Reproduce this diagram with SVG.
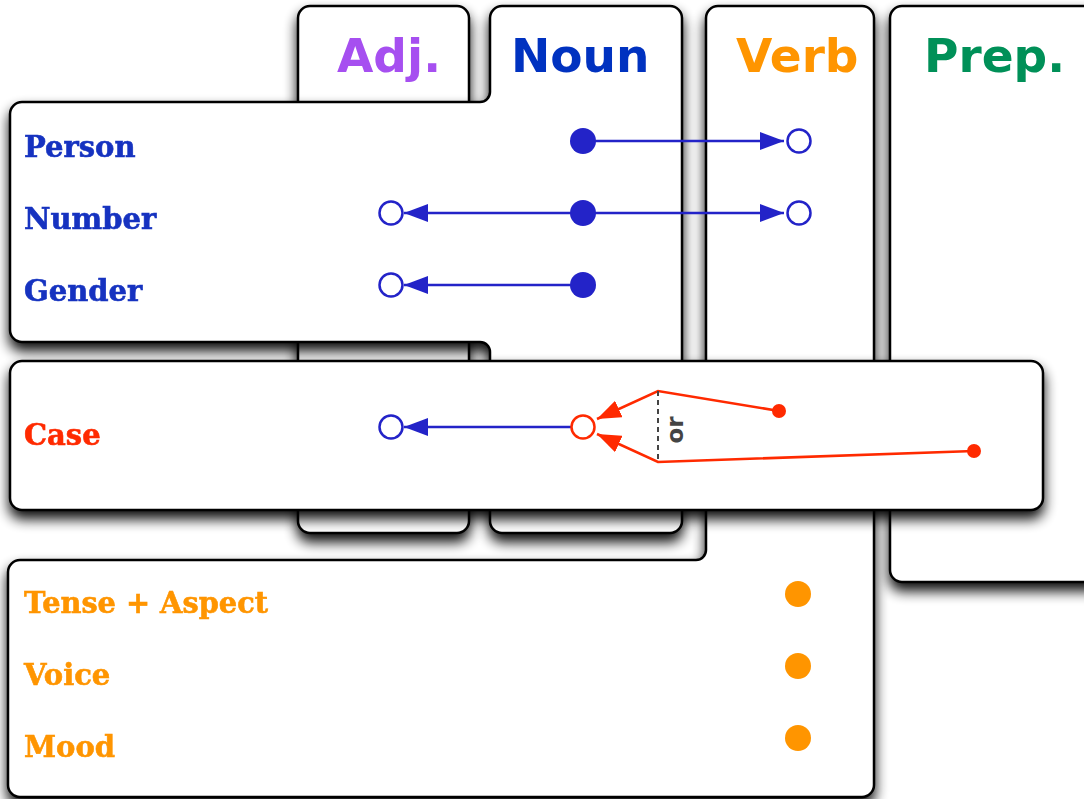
<svg xmlns="http://www.w3.org/2000/svg" width="1084" height="799" viewBox="0 0 1084 799">
<defs>
<filter id="sh" x="-10%" y="-10%" width="120%" height="130%">
<feGaussianBlur in="SourceAlpha" stdDeviation="6.5"/>
<feOffset dx="0" dy="8" result="b"/>
<feComponentTransfer><feFuncA type="linear" slope="0.95"/></feComponentTransfer>
<feMerge><feMergeNode/><feMergeNode in="SourceGraphic"/></feMerge>
</filter>
<marker id="ab" viewBox="0 0 24 18" refX="24" refY="9" markerWidth="24" markerHeight="18" markerUnits="userSpaceOnUse" orient="auto-start-reverse"><path d="M0,0 L24,9 L0,18 Z" fill="#2323C8"/></marker>
<marker id="ar" viewBox="0 0 24 18" refX="24" refY="9" markerWidth="24" markerHeight="18" markerUnits="userSpaceOnUse" orient="auto"><path d="M0,0 L24,9 L0,18 Z" fill="#FF2A00"/></marker>
</defs>
<style>
.box{fill:#fff;stroke:#000;stroke-width:2.5}
.hd{font-family:"DejaVu Sans",sans-serif;font-weight:bold;font-size:47px}
.lb{font-family:"DejaVu Serif","Liberation Serif",serif;font-weight:bold;font-size:29px;stroke-width:0.6}
.bl{stroke:#2323C8;stroke-width:2.6;fill:none}
.rd{stroke:#FF2A00;stroke-width:2.6;fill:none}
.fb{fill:#2323C8}
.ob{fill:#fff;stroke:#2323C8;stroke-width:2.5}
.or{fill:#fff;stroke:#FF2A00;stroke-width:2.5}
.fo{fill:#FF9500}
.fr{fill:#FF2A00}
</style>
<rect width="1084" height="799" fill="#fff"/>
<g id="adj" filter="url(#sh)">
<rect class="box" x="298" y="6" width="171" height="527" rx="12"/>
<text class="hd" x="337" y="72" fill="#A650F0">Adj.</text>
</g>
<g id="prep" filter="url(#sh)">
<rect class="box" x="890" y="6" width="230" height="576" rx="12"/>
<text class="hd" x="924" y="72" fill="#009058">Prep.</text>
</g>
<g id="verb" filter="url(#sh)">
<path class="box" d="M718,6 L862,6 A12,12 0 0 1 874,18 L874,785 A12,12 0 0 1 862,797 L20,797 A12,12 0 0 1 8,785 L8,572 A12,12 0 0 1 20,560 L696,560 A10,10 0 0 0 706,550 L706,18 A12,12 0 0 1 718,6 Z"/>
<text class="hd" x="736" y="72" fill="#FF9500">Verb</text>
<text class="lb" x="24" y="613" fill="#FF9500" stroke="#FF9500" textLength="244" lengthAdjust="spacingAndGlyphs">Tense + Aspect</text>
<text class="lb" x="24" y="685" fill="#FF9500" stroke="#FF9500">Voice</text>
<text class="lb" x="24" y="757" fill="#FF9500" stroke="#FF9500">Mood</text>
</g>
<g id="noun" filter="url(#sh)">
<path class="box" d="M22,102 L480,102 A10,10 0 0 0 490,92 L490,18 A12,12 0 0 1 502,6 L670,6 A12,12 0 0 1 682,18 L682,521 A12,12 0 0 1 670,533 L502,533 A12,12 0 0 1 490,521 L490,352 A10,10 0 0 0 480,342 L22,342 A12,12 0 0 1 10,330 L10,114 A12,12 0 0 1 22,102 Z"/>
<text class="hd" x="511" y="72" fill="#0533C0">Noun</text>
<text class="lb" x="24" y="157" fill="#1533C0" stroke="#1533C0">Person</text>
<text class="lb" x="24" y="229" fill="#1533C0" stroke="#1533C0">Number</text>
<text class="lb" x="24" y="301" fill="#1533C0" stroke="#1533C0">Gender</text>
</g>
<g id="case" filter="url(#sh)">
<rect class="box" x="10" y="361" width="1033" height="149" rx="12"/>
<text class="lb" x="24" y="445" fill="#FF2A00" stroke="#FF2A00">Case</text>
</g>
<g id="connectors">
<line class="bl" x1="583" y1="141" x2="784" y2="141" marker-end="url(#ab)"/>
<line class="bl" x1="404" y1="213" x2="784" y2="213" marker-start="url(#ab)" marker-end="url(#ab)"/>
<line class="bl" x1="583" y1="285" x2="404" y2="285" marker-end="url(#ab)"/>
<line class="bl" x1="571" y1="427" x2="404" y2="427" marker-end="url(#ab)"/>
<polyline class="rd" points="779,411 658,391 597,419" marker-end="url(#ar)"/>
<polyline class="rd" points="974,451 658,462 597,434" marker-end="url(#ar)"/>
<line x1="658" y1="391" x2="658" y2="462" stroke="#444" stroke-width="2" stroke-dasharray="5,4"/>
<text x="0" y="0" transform="translate(683,430) rotate(-90)" text-anchor="middle" font-family="DejaVu Sans,sans-serif" font-weight="bold" font-size="23" fill="#444">or</text>
</g>
<g id="dots">
<circle class="fb" cx="583" cy="141" r="13"/>
<circle class="ob" cx="799" cy="141" r="11.5"/>
<circle class="ob" cx="391" cy="213" r="11.5"/>
<circle class="fb" cx="583" cy="213" r="13"/>
<circle class="ob" cx="799" cy="213" r="11.5"/>
<circle class="ob" cx="391" cy="285" r="11.5"/>
<circle class="fb" cx="583" cy="285" r="13"/>
<circle class="ob" cx="391" cy="427" r="11.5"/>
<circle class="or" cx="583" cy="427" r="11.5"/>
<circle class="fr" cx="779" cy="411" r="7"/>
<circle class="fr" cx="974" cy="451" r="7"/>
<circle class="fo" cx="798" cy="594" r="13"/>
<circle class="fo" cx="798" cy="666" r="13"/>
<circle class="fo" cx="798" cy="738" r="13"/>
</g>
</svg>
